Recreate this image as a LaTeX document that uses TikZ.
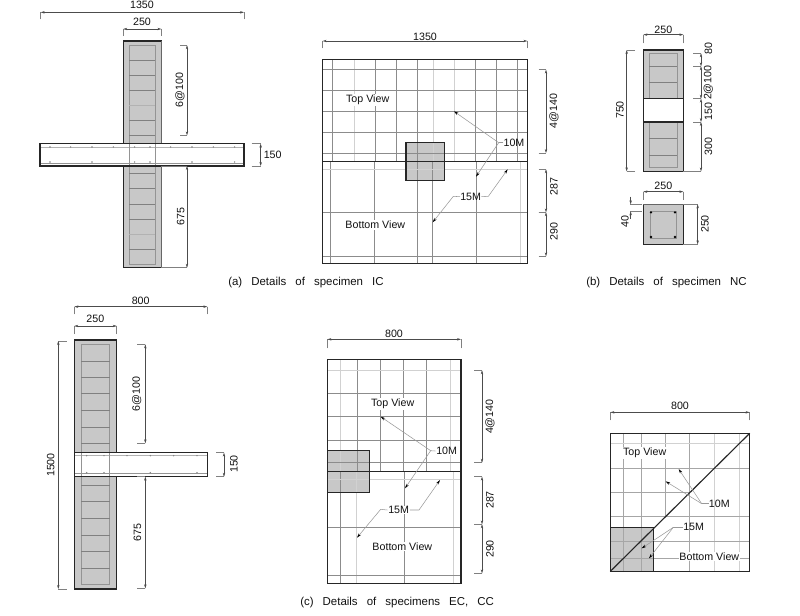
\documentclass[tikz,border=0pt]{standalone}
\usepackage{fontspec}
\setmainfont{Liberation Sans}
\usetikzlibrary{arrows.meta}
\definecolor{conc}{HTML}{C8C8C8}
\definecolor{txt}{HTML}{111111}
\tikzset{
  lab/.style={inner sep=0pt,text=txt,font=\fontsize{8pt}{9pt}\selectfont},
  rlab/.style={lab,rotate=90},
  captext/.style={inner sep=0pt,anchor=west,text=txt,font=\fontsize{8.6pt}{10pt}\selectfont},
  dimline/.style={draw=black!70,line width=.35pt,{Stealth[length=3pt,width=1.8pt]}-{Stealth[length=3pt,width=1.8pt]}},
  tickline/.style={draw=black!50,line width=.35pt},
  leader/.style={draw=black!40,line width=.4pt},
  leadarrow/.style={leader,-{Stealth[length=3.5pt,width=2pt,black]}},
  outline/.style={draw=black!85,line width=.85pt},
  gridline/.style={draw=black!45,line width=.35pt},
  lgrid/.style={draw=black!18,line width=.7pt},
  innerline/.style={draw=black!42,line width=.45pt},
  stir/.style={draw=black!50,line width=.4pt},
  concrete/.style={fill=conc},
  rebardot/.style={fill=black!50,draw=none},
  bardot/.style={fill=black,draw=none},
  panel/.style={x=.25pt,y=-.25pt}
}
\newcommand{\hdim}[4]{\draw[tickline] (#1,#4)--(#1,#3) (#2,#4)--(#2,#3); \draw[dimline] (#1,#3)--(#2,#3);}
\newcommand{\vdim}[4]{\draw[tickline] (#4,#1)--(#3,#1) (#4,#2)--(#3,#2); \draw[dimline] (#3,#1)--(#3,#2);}
\begin{document}
\begin{tikzpicture}[x=.75pt,y=-.75pt]
\path[use as bounding box,fill=white] (0,0) rectangle (800,615);

%% ---------- Panel (a) left: specimen IC elevation
\begin{scope}[shift={(30,0)},panel]
  \hdim{32}{642}{37}{58}
  \hdim{280}{394}{87}{108}
  \node[lab] (a1350) at (336,15) {1350};
  \node[lab] (a250) at (336,66) {250};
  \path[concrete] (280,123) rectangle (394,803);
  \draw[innerline] (298,136) rectangle (375,794);
  \foreach \y in {181,226,271,361,406,520,565,612,658,748} \draw[stir] (298,\y)--(375,\y);
  \foreach \y in {316,703} \draw[innerline,draw=black!30] (298,\y)--(375,\y);
  \draw[outline] (280,123) rectangle (394,803);
  \draw[draw=black!60,line width=1.2pt] (394,123)--(394,803);
  \path[fill=white] (30,431) rectangle (642,498);
  \draw[innerline,draw=black!30] (30,441)--(642,441);
  \draw[innerline] (30,490)--(642,490);
  \draw[innerline] (298,431)--(298,498) (375,431)--(375,498);
  \foreach \x in {60,122,186,250,314,360,422,486,550,614} \path[rebardot] (\x,441) circle (.6pt);
  \foreach \x in {60,186,314,360,486,614} \path[rebardot] (\x,486) circle (.6pt);
  \draw[outline,line width=1pt] (30,431) rectangle (642,498);
  \vdim{136}{406}{471}{450}
  \vdim{498}{803}{471}{394}
  \vdim{431}{498}{692}{665}
  \node[rlab] (a6) at (450,270) {6@100};
  \node[rlab] (a675) at (452,650) {675};
  \node[lab] (a150) at (728,464) {150};
\end{scope}
\node[captext] (capa) at (228,283) {(a)\hspace{4.4pt} Details\hspace{4.4pt} of\hspace{4.4pt} specimen\hspace{4.4pt} IC};

%% ---------- Panel (a) right: plan
\begin{scope}[shift={(300,30)},panel]
  \hdim{68}{682}{33}{55}
  \node[lab] (b1350) at (375,20) {1350};
  \path[concrete] (318,337) rectangle (433,451);
  \foreach \x in {97,226,290,352,527,589,653} \draw[gridline] (\x,88)--(\x,394);
  \foreach \x in {163,401,462} \draw[lgrid] (\x,88)--(\x,394);
  \foreach \y in {119,181,244,307,369} \draw[gridline] (68,\y)--(682,\y);
  \foreach \x in {92,223,352,398,530} \draw[gridline] (\x,394)--(\x,700);
  \draw[lgrid] (660,394)--(660,700);
  \foreach \y in {547,679} \draw[gridline] (68,\y)--(682,\y);
  \draw[lgrid] (68,418)--(682,418);
  \draw[outline] (318,337) rectangle (433,451);
  \draw[outline] (68,88) rectangle (682,700);
  \draw[outline] (68,394)--(682,394);
  \node[lab,fill=white,inner sep=.5pt] (btop) at (203,210) {Top View};
  \node[lab,fill=white,inner sep=.5pt] (bbot) at (226,585) {Bottom View};
  \node[lab] (b10) at (642,338) {10M};
  \node[lab] (b15) at (512,500) {15M};
  \coordinate (bk1) at (596,338);
  \coordinate (bk2) at (460,499);
  \coordinate (bk3) at (565,499);
  \draw[leader] (b10.west)--(bk1);
  \draw[leadarrow] (bk1)--(462,244);
  \draw[leadarrow] (bk1)--(528,440);
  \draw[leadarrow] (b15.west)--(bk2)--(398,577);
  \draw[leadarrow] (b15.east)--(bk3)--(623,418);
  \vdim{119}{369}{738}{716}
  \vdim{418}{547}{738}{716}
  \vdim{547}{679}{738}{716}
  \node[rlab] (b4) at (762,243) {4@140};
  \node[rlab] (b287) at (762,470) {287};
  \node[rlab] (b290) at (762,605) {290};
\end{scope}

%% ---------- Panel (b): specimen NC
\begin{scope}[shift={(600,20)},panel]
  \hdim{130}{250}{44}{70}
  \node[lab] (c250a) at (190,28) {250};
  \path[concrete] (130,90) rectangle (250,454);
  \draw[innerline] (148,100) rectangle (231,442);
  \foreach \y in {139,188,355,406} \draw[stir] (148,\y)--(231,\y);
  \path[fill=white] (130,236) rectangle (250,306);
  \draw[outline] (130,90) rectangle (250,454);
  \draw[outline] (130,236)--(250,236) (130,306)--(250,306);
  \vdim{90}{454}{80}{105}
  \node[rlab] (c750) at (60,270) {750};
  \draw[tickline] (280,100)--(303,100) (280,139)--(303,139) (280,236)--(303,236) (280,306)--(303,306) (250,454)--(303,454);
  \draw[dimline] (303,100)--(303,139);
  \draw[dimline] (303,139)--(303,236);
  \draw[dimline] (303,236)--(303,306);
  \draw[dimline] (303,306)--(303,454);
  \node[rlab] (c80) at (325,85) {80};
  \node[rlab] (c2) at (325,188) {2@100};
  \node[rlab] (c150) at (325,275) {150};
  \node[rlab] (c300) at (325,380) {300};
  \hdim{130}{250}{515}{540}
  \node[lab] (c250b) at (190,496) {250};
  \path[concrete] (130,553) rectangle (250,673);
  \draw[innerline] (150,574) rectangle (228,655);
  \foreach \x in {153,225} \foreach \y in {577,651} \path[bardot] (\x,\y) circle (.95pt);
  \draw[outline,line width=.8pt] (130,553) rectangle (250,673);
  \draw[draw=black!60,line width=1.1pt] (130,553)--(250,553);
  \draw[tickline] (90,553)--(125,553) (90,574)--(125,574);
  \draw[line width=.35pt,draw=black!70,-{Stealth[length=3pt,width=1.8pt]}] (92,530)--(92,553);
  \draw[line width=.35pt,draw=black!70,-{Stealth[length=3pt,width=1.8pt]}] (92,597)--(92,574);
  \node[rlab] (c40) at (75,605) {40};
  \draw[tickline] (250,553)--(293,553) (250,673)--(293,673);
  \draw[dimline] (293,553)--(293,673);
  \node[rlab] (c250c) at (315,612) {250};
\end{scope}
\node[captext] (capb) at (586,283) {(b)\hspace{4.4pt} Details\hspace{4.4pt} of\hspace{4.4pt} specimen\hspace{4.4pt} NC};

%% ---------- Panel (c) left: EC/CC elevation
\begin{scope}[shift={(30,290)},panel]
  \hdim{133}{532}{50}{73}
  \hdim{133}{260}{108}{132}
  \node[lab] (d800) at (332,33) {800};
  \node[lab] (d250) at (196,87) {250};
  \path[concrete] (134,150) rectangle (259,897);
  \draw[innerline] (154,163) rectangle (239,884);
  \foreach \y in {214,262,310,361,412,460,586,634,685,736,785,835} \draw[stir] (154,\y)--(239,\y);
  \draw[outline] (134,150) rectangle (259,897);
  \path[fill=white] (134,488) rectangle (532,560);
  \draw[innerline,draw=black!30] (134,497)--(532,497);
  \draw[innerline] (134,550)--(532,550);
  \draw[innerline] (154,488)--(154,560) (239,488)--(239,560);
  \foreach \x in {170,222,291,361,431,501} \path[rebardot] (\x,497) circle (.6pt);
  \foreach \x in {170,222,361,501} \path[rebardot] (\x,548) circle (.6pt);
  \draw[outline] (134,488) rectangle (532,560);
  \vdim{153}{897}{85}{110}
  \vdim{163}{460}{346}{322}
  \vdim{560}{895}{346}{322}
  \vdim{488}{560}{582}{558}
  \node[rlab] (d1500) at (62,525) {1500};
  \node[rlab] (d6) at (320,312) {6@100};
  \node[rlab] (d675) at (322,728) {675};
  \node[rlab] (d150) at (612,522) {150};
\end{scope}

%% ---------- Panel (c) centre: EC plan
\begin{scope}[shift={(310,320)},panel]
  \hdim{52}{453}{58}{85}
  \node[lab] (e800) at (252,40) {800};
  \path[concrete] (52,392) rectangle (178,517);
  \foreach \x in {142,211,281,350} \draw[gridline] (\x,118)--(\x,454);
  \foreach \x in {90,421} \draw[lgrid,line width=.5pt] (\x,118)--(\x,454);
  \foreach \y in {221,290,360,428} \draw[gridline] (52,\y)--(453,\y);
  \draw[lgrid] (52,151)--(453,151);
  \foreach \x in {92,283} \draw[gridline] (\x,454)--(\x,790);
  \foreach \x in {140,429} \draw[lgrid] (\x,454)--(\x,790);
  \draw[lgrid] (52,478)--(453,478);
  \draw[gridline] (52,622)--(453,622);
  \draw[gridline] (52,766)--(453,766);
  \draw[outline] (52,392) rectangle (178,517);
  \draw[outline] (52,118) rectangle (453,790);
  \draw[outline] (52,454)--(453,454);
  \node[lab,fill=white,inner sep=.5pt] (etop) at (248,252) {Top View};
  \node[lab,fill=white,inner sep=.5pt] (ebot) at (277,680) {Bottom View};
  \node[lab,fill=white,inner sep=.5pt] (e10) at (410,393) {10M};
  \node[lab,fill=white,inner sep=.5pt] (e15) at (266,570) {15M};
  \coordinate (ek1) at (362,392);
  \coordinate (ek2) at (212,568);
  \coordinate (ek3) at (327,570);
  \draw[leader] (e10.west)--(ek1);
  \draw[leadarrow] (ek1)--(212,290);
  \draw[leadarrow] (ek1)--(285,505);
  \draw[leadarrow] (e15.west)--(ek2)--(141,653);
  \draw[leadarrow] (e15.east)--(ek3)--(390,480);
  \vdim{151}{428}{516}{492}
  \vdim{470}{613}{516}{492}
  \vdim{613}{760}{516}{492}
  \node[rlab] (e4) at (540,290) {4@140};
  \node[rlab] (e287) at (540,540) {287};
  \node[rlab] (e290) at (540,687) {290};
\end{scope}
\node[captext] (capc) at (300,603) {(c)\hspace{4.4pt} Details\hspace{4.4pt} of\hspace{4.4pt} specimens\hspace{4.4pt} EC,\hspace{4.4pt} CC};

%% ---------- Panel (c) right: CC plan
\begin{scope}[shift={(605,428)},panel]
  \hdim{16}{434}{-47}{-23}
  \node[lab] (f800) at (225,-67) {800};
  \path[concrete] (16,299) rectangle (146,430);
  \foreach \x/\ya in {55/430,110/430,254/430,182/266} \draw[gridline,draw=black!35] (\x,16)--(\x,\ya);
  \foreach \x in {328,404} \draw[lgrid] (\x,16)--(\x,430);
  \draw[lgrid] (16,47)--(434,47);
  \foreach \y/\xa in {122/434,194/254,266/434,340/434,392/434} \draw[gridline,draw=black!35] (16,\y)--(\xa,\y);
  \draw[outline] (16,299) rectangle (146,430);
  \draw[outline] (16,16) rectangle (434,430);
  \draw[outline] (16,430)--(434,16);
  \node[lab,fill=white,inner sep=.5pt] (ftop) at (119,75) {Top View};
  \node[lab,fill=white,inner sep=.5pt] (fbot) at (313,386) {Bottom View};
  \node[lab] (f10) at (343,227) {10M};
  \node[lab] (f15) at (266,298) {15M};
  \coordinate (fk1) at (290,227);
  \coordinate (fk2) at (205,298);
  \draw[leader] (f10.west)--(fk1);
  \draw[leadarrow] (fk1)--(221,123);
  \draw[leadarrow] (fk1)--(182,160);
  \draw[leader] (f15.west)--(fk2);
  \draw[leadarrow] (fk2)--(110,361);
  \draw[leadarrow] (fk2)--(132,391);
\end{scope}
\end{tikzpicture}
\end{document}
